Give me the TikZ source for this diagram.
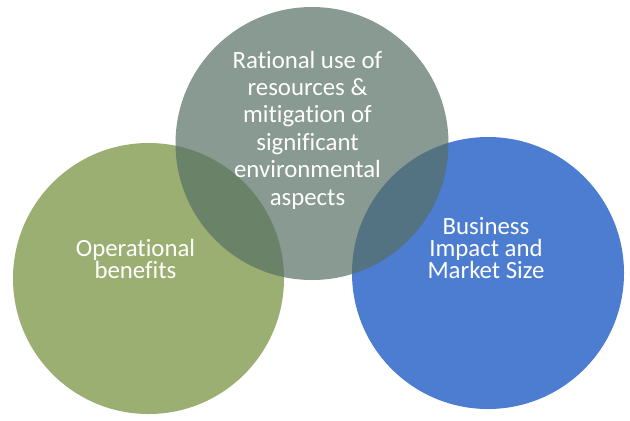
\documentclass[tikz,border=0pt]{standalone}
\usepackage{fontspec}
\setmainfont{Carlito}[Ligatures=NoCommon]
\usepackage{tikz}
\definecolor{opsgreen}{RGB}{155,175,114}
\definecolor{bizblue}{RGB}{77,125,208}
\definecolor{envgray}{RGB}{86,111,99}
\begin{document}
\begin{tikzpicture}[x=1bp,y=-1bp,
venn/.style={circle, inner sep=0pt, draw=none},
vtext/.style={text=white, align=center, anchor=base, inner sep=0pt}]
\useasboundingbox (0,0) rectangle (630,420);
\node[venn, fill=opsgreen, minimum size=271bp] (ops) at (148.5,278.5) {};
\node[venn, fill=bizblue, minimum size=272bp] (biz) at (488,273) {};
\node[venn, fill=envgray, fill opacity=0.7, minimum size=273bp] (env) at (312,143.5) {};
\node[vtext, font=\fontsize{24.8bp}{22bp}\selectfont] (opsText) at (135.5,278) {Operational\\benefits};
\node[vtext, font=\fontsize{24.8bp}{27.4bp}\selectfont] (envText) at (307.5,205)
  {Rational use of\\resources \&\\mitigation of\\significant\\environmental\\aspects};
\node[vtext, font=\fontsize{24.8bp}{22bp}\selectfont] (bizText) at (486,278) {Business\\Impact and\\Market Size};
\end{tikzpicture}
\end{document}
